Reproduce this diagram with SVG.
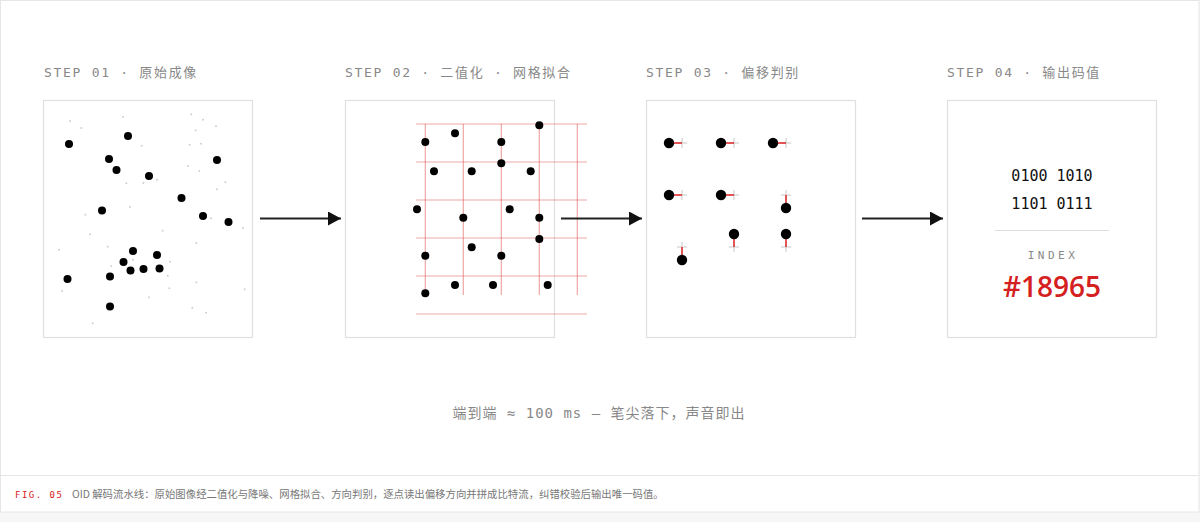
<svg xmlns="http://www.w3.org/2000/svg" width="1200" height="522" viewBox="0 0 1200 522">
<style>
.step{font-family:"DejaVu Sans Mono","Noto Sans CJK SC",monospace;font-size:13px;letter-spacing:1.7px;fill:#888}
.panel{fill:#fff;stroke:#e0e0e0;stroke-width:1.2}
.dot{fill:#000}
.noise{fill:#cfcfcf}
.grid line{stroke:#e05050;stroke-opacity:0.5;stroke-width:1.2}
.cross line{stroke:#c8c8c8;stroke-width:1}
.off{stroke:#e03030;stroke-width:1.6}
.conn line{stroke:#222;stroke-width:2}
.code{font-family:"DejaVu Sans Mono",monospace;font-size:15px;fill:#111;text-anchor:middle}
</style>
<defs>
<marker id="ah" markerWidth="14" markerHeight="14" refX="13" refY="7" orient="auto" markerUnits="userSpaceOnUse">
<path d="M0,0 L13,7 L0,14 Z" fill="#111"/>
</marker>
</defs>
<rect x="0" y="0" width="1200" height="522" fill="#f6f6f6"/>
<rect x="0.5" y="0.5" width="1198.5" height="511.5" fill="#fff" stroke="#e6e6e6" stroke-width="1"/>
<line x1="0" y1="475.5" x2="1199" y2="475.5" stroke="#e6e6e6" stroke-width="1"/>

<g id="step1">
<text class="step" x="44" y="77">STEP 01 · 原始成像</text>
<rect class="panel" x="43.5" y="100.5" width="209" height="237"/>
<g class="noise">
<circle cx="70" cy="121" r="1"/><circle cx="81.3" cy="128" r="1"/><circle cx="123" cy="117" r="1"/><circle cx="141.7" cy="145.7" r="1"/><circle cx="191.3" cy="114.3" r="1"/><circle cx="203" cy="119.7" r="1"/><circle cx="195.7" cy="130.3" r="1"/><circle cx="216" cy="126.3" r="1"/><circle cx="189.7" cy="144.7" r="1"/><circle cx="201" cy="143.7" r="1"/><circle cx="188" cy="166" r="1"/><circle cx="199.3" cy="171" r="1"/><circle cx="126.3" cy="183.3" r="1"/><circle cx="143.3" cy="183" r="1"/><circle cx="157" cy="179.7" r="1"/><circle cx="225.3" cy="182.3" r="1"/><circle cx="217" cy="189.3" r="1"/><circle cx="130" cy="207" r="1"/><circle cx="85.3" cy="214.7" r="1"/><circle cx="211" cy="218.3" r="1"/><circle cx="243" cy="228" r="1"/><circle cx="162.7" cy="230.7" r="1"/><circle cx="90" cy="234.3" r="1"/><circle cx="59" cy="249.7" r="1"/><circle cx="107.7" cy="246.7" r="1"/><circle cx="196.3" cy="243" r="1"/><circle cx="170" cy="261.7" r="1"/><circle cx="111.3" cy="266" r="1"/><circle cx="133" cy="259.7" r="1"/><circle cx="167.7" cy="275.7" r="1"/><circle cx="62" cy="291" r="1"/><circle cx="196.3" cy="282.3" r="1"/><circle cx="169.3" cy="288.3" r="1"/><circle cx="244.7" cy="289.3" r="1"/><circle cx="149" cy="297.3" r="1"/><circle cx="192.3" cy="307.7" r="1"/><circle cx="206" cy="312.7" r="1"/><circle cx="92.7" cy="323.3" r="1"/>
</g>
<g class="dot">
<circle cx="69" cy="144" r="4"/><circle cx="128" cy="136" r="4"/><circle cx="109" cy="159" r="4"/><circle cx="116.5" cy="170" r="4"/><circle cx="149" cy="176" r="4"/><circle cx="217" cy="160" r="4"/><circle cx="181.5" cy="198" r="4"/><circle cx="102" cy="210.5" r="4"/><circle cx="203" cy="216" r="4"/><circle cx="228.5" cy="222" r="4"/><circle cx="133" cy="251" r="4"/><circle cx="157" cy="255" r="4"/><circle cx="123.5" cy="262" r="4"/><circle cx="130.5" cy="270.5" r="4"/><circle cx="143.5" cy="269" r="4"/><circle cx="159.5" cy="268.5" r="4"/><circle cx="67.5" cy="279" r="4"/><circle cx="110" cy="276.5" r="4"/><circle cx="110" cy="306.5" r="4"/>
</g>
</g>

<g id="step2">
<text class="step" x="345" y="77">STEP 02 · 二值化 · 网格拟合</text>
<rect class="panel" x="345.5" y="100.5" width="209" height="237"/>
<g class="grid">
<line x1="416" y1="124" x2="587" y2="124"/><line x1="416" y1="162" x2="587" y2="162"/><line x1="416" y1="200" x2="587" y2="200"/><line x1="416" y1="238" x2="587" y2="238"/><line x1="416" y1="276" x2="587" y2="276"/><line x1="416" y1="314" x2="587" y2="314"/>
<line x1="425.3" y1="124" x2="425.3" y2="295"/><line x1="463.3" y1="124" x2="463.3" y2="295"/><line x1="501.3" y1="124" x2="501.3" y2="295"/><line x1="539.3" y1="124" x2="539.3" y2="295"/><line x1="577.3" y1="124" x2="577.3" y2="295"/>
</g>
<g class="dot">
<circle cx="425.3" cy="142" r="4"/><circle cx="455" cy="133.3" r="4"/><circle cx="501.3" cy="142" r="4"/><circle cx="539.3" cy="125.3" r="4"/><circle cx="434" cy="171.3" r="4"/><circle cx="471.7" cy="171.3" r="4"/><circle cx="501.3" cy="163.3" r="4"/><circle cx="530.7" cy="171.3" r="4"/><circle cx="417" cy="209.3" r="4"/><circle cx="463.3" cy="217.7" r="4"/><circle cx="509.7" cy="209.3" r="4"/><circle cx="539.3" cy="217.7" r="4"/><circle cx="539.3" cy="239" r="4"/><circle cx="471.7" cy="247.3" r="4"/><circle cx="425.3" cy="255.7" r="4"/><circle cx="501.3" cy="255.7" r="4"/><circle cx="455" cy="285" r="4"/><circle cx="493" cy="285" r="4"/><circle cx="547.7" cy="285" r="4"/><circle cx="425.3" cy="293.3" r="4"/>
</g>
</g>

<g id="step3">
<text class="step" x="646" y="77">STEP 03 · 偏移判别</text>
<rect class="panel" x="646.5" y="100.5" width="209" height="237"/>
<g class="cross">
<line x1="677" y1="143" x2="687" y2="143"/><line x1="682" y1="138" x2="682" y2="148"/>
<line x1="729" y1="143" x2="739" y2="143"/><line x1="734" y1="138" x2="734" y2="148"/>
<line x1="781" y1="143" x2="791" y2="143"/><line x1="786" y1="138" x2="786" y2="148"/>
<line x1="677" y1="195" x2="687" y2="195"/><line x1="682" y1="190" x2="682" y2="200"/>
<line x1="729" y1="195" x2="739" y2="195"/><line x1="734" y1="190" x2="734" y2="200"/>
<line x1="781" y1="195" x2="791" y2="195"/><line x1="786" y1="190" x2="786" y2="200"/>
<line x1="677" y1="247" x2="687" y2="247"/><line x1="682" y1="242" x2="682" y2="252"/>
<line x1="729" y1="247" x2="739" y2="247"/><line x1="734" y1="242" x2="734" y2="252"/>
<line x1="781" y1="247" x2="791" y2="247"/><line x1="786" y1="242" x2="786" y2="252"/>
</g>
<g class="off">
<line x1="669" y1="143" x2="682" y2="143"/><line x1="721" y1="143" x2="734" y2="143"/><line x1="773" y1="143" x2="786" y2="143"/>
<line x1="669" y1="195" x2="682" y2="195"/><line x1="721" y1="195" x2="734" y2="195"/>
<line x1="786" y1="195" x2="786" y2="208"/><line x1="734" y1="234" x2="734" y2="247"/><line x1="786" y1="234" x2="786" y2="247"/><line x1="682" y1="247" x2="682" y2="260"/>
</g>
<g class="dot">
<circle cx="669" cy="143" r="5.2"/><circle cx="721" cy="143" r="5.2"/><circle cx="773" cy="143" r="5.2"/><circle cx="669" cy="195" r="5.2"/><circle cx="721" cy="195" r="5.2"/><circle cx="786" cy="208" r="5.2"/><circle cx="734" cy="234" r="5.2"/><circle cx="786" cy="234" r="5.2"/><circle cx="682" cy="260" r="5.2"/>
</g>
</g>

<g id="step4">
<text class="step" x="947" y="77">STEP 04 · 输出码值</text>
<rect class="panel" x="947.5" y="100.5" width="209" height="237"/>
<text class="code" x="1052" y="181">0100 1010</text>
<text class="code" x="1052" y="209">1101 0111</text>
<line x1="995" y1="230.5" x2="1109" y2="230.5" stroke="#dddddd" stroke-width="1.2"/>
<text x="1053" y="259" font-family="DejaVu Sans Mono,monospace" font-size="11" letter-spacing="3.5" fill="#888" text-anchor="middle">INDEX</text>
<text x="1052" y="297" font-family="Open Sans,Liberation Sans,sans-serif" font-size="28" font-weight="600" fill="#d42020" text-anchor="middle">#18965</text>
</g>

<g id="connectors" class="conn">
<line x1="260" y1="218.5" x2="341" y2="218.5" marker-end="url(#ah)"/>
<line x1="561" y1="218.5" x2="642" y2="218.5" marker-end="url(#ah)"/>
<line x1="862" y1="218.5" x2="943" y2="218.5" marker-end="url(#ah)"/>
</g>

<text x="599" y="418" font-family="DejaVu Sans Mono,Noto Sans CJK SC,monospace" font-size="14" letter-spacing="1" fill="#888" text-anchor="middle">端到端 ≈ 100 ms — 笔尖落下，声音即出</text>

<text x="15" y="498" font-family="DejaVu Sans Mono,monospace" font-size="9" letter-spacing="1.5" fill="#d42020">FIG. 05</text>
<text x="72" y="498" font-family="Noto Sans CJK SC,sans-serif" font-size="10.4" fill="#777">OID 解码流水线：原始图像经二值化与降噪、网格拟合、方向判别，逐点读出偏移方向并拼成比特流，纠错校验后输出唯一码值。</text>
</svg>
